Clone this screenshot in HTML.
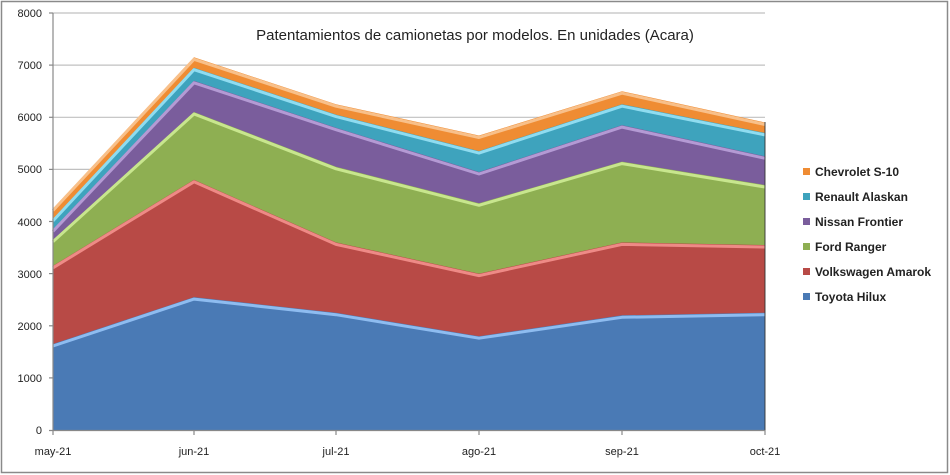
<!DOCTYPE html>
<html><head><meta charset="utf-8"><style>
body{margin:0;background:#fff;width:950px;height:475px;overflow:hidden}
svg{display:block;font-family:"Liberation Sans",sans-serif}
</style></head><body>
<svg width="950" height="475" viewBox="0 0 950 475">
<rect x="1.5" y="1.5" width="946" height="471" fill="#fff" stroke="#8a8a8a" stroke-width="1.5"/>
<g stroke="#c0c0c0" stroke-width="1.2">
<line x1="53" x2="765" y1="13" y2="13"/><line x1="53" x2="765" y1="65.1" y2="65.1"/>
<line x1="53" x2="765" y1="117.3" y2="117.3"/><line x1="53" x2="765" y1="169.4" y2="169.4"/>
<line x1="53" x2="765" y1="221.5" y2="221.5"/><line x1="53" x2="765" y1="273.6" y2="273.6"/>
<line x1="53" x2="765" y1="325.8" y2="325.8"/><line x1="53" x2="765" y1="377.9" y2="377.9"/>
</g>
<text x="475" y="40" font-size="15" text-anchor="middle" fill="#222">Patentamientos de camionetas por modelos. En unidades  (Acara)</text>
<!-- areas -->
<g stroke-linejoin="round">
<polygon fill="#ef8c33" points="53,208.5 194,57.3 336,104.2 479,135.5 622,91.2 765,122.5 765,430 53,430"/>
<polyline fill="none" stroke="#f8c08a" stroke-width="3" points="53,210.5 194,59.3 336,106.2 479,137.5 622,93.2 765,124.5"/>
<polygon fill="#3ea3bd" points="53,218.9 194,67.7 336,114.6 479,151.1 622,104.2 765,132.9 765,430 53,430"/>
<polyline fill="none" stroke="#8fdcf0" stroke-width="3" points="53,220.9 194,69.7 336,116.6 479,153.1 622,106.2 765,134.9"/>
<polygon fill="#7a5d9c" points="53,229.3 194,80.8 336,127.7 479,172 622,125.1 765,156.3 765,430 53,430"/>
<polyline fill="none" stroke="#b49ad4" stroke-width="3" points="53,231.3 194,82.8 336,129.7 479,174 622,127.1 765,158.3"/>
<polygon fill="#8eaf52" points="53,239.7 194,112 336,166.8 479,203.3 622,161.6 765,185 765,430 53,430"/>
<polyline fill="none" stroke="#c8e68e" stroke-width="3" points="53,241.7 194,114 336,168.8 479,205.3 622,163.6 765,187"/>
<polygon fill="#b84a46" points="53,265.8 194,179.8 336,242.4 479,273.6 622,242.4 765,245 765,430 53,430"/>
<polyline fill="none" stroke="#ee8a86" stroke-width="3" points="53,267.8 194,181.8 336,244.4 479,275.6 622,244.4 765,247"/>
<polygon fill="#4a7ab5" points="53,344 194,297.1 336,312.7 479,336.2 622,315.3 765,312.7 765,430 53,430"/>
<polyline fill="none" stroke="#8ebcf0" stroke-width="3" points="53,346 194,299.1 336,314.7 479,338.2 622,317.3 765,314.7"/>
</g>
<line x1="765" y1="122" x2="765" y2="430" stroke="#333" stroke-width="1.5" opacity="0.6"/>
<!-- axes -->
<g stroke="#888" stroke-width="1.2">
<line x1="53" y1="13" x2="53" y2="430"/><line x1="49" y1="430.5" x2="765" y2="430.5"/>
<line x1="49" x2="53" y1="13" y2="13"/><line x1="49" x2="53" y1="65.1" y2="65.1"/><line x1="49" x2="53" y1="117.3" y2="117.3"/>
<line x1="49" x2="53" y1="169.4" y2="169.4"/><line x1="49" x2="53" y1="221.5" y2="221.5"/><line x1="49" x2="53" y1="273.6" y2="273.6"/>
<line x1="49" x2="53" y1="325.8" y2="325.8"/><line x1="49" x2="53" y1="377.9" y2="377.9"/>
<line x1="53" x2="53" y1="430" y2="435"/><line x1="194" x2="194" y1="430" y2="435"/><line x1="336" x2="336" y1="430" y2="435"/>
<line x1="479" x2="479" y1="430" y2="435"/><line x1="622" x2="622" y1="430" y2="435"/><line x1="765" x2="765" y1="430" y2="435"/>
</g>
<g font-size="11" fill="#222" text-anchor="end">
<text x="42" y="17">8000</text><text x="42" y="69">7000</text><text x="42" y="121">6000</text><text x="42" y="173">5000</text>
<text x="42" y="226">4000</text><text x="42" y="278">3000</text><text x="42" y="330">2000</text><text x="42" y="382">1000</text><text x="42" y="434">0</text>
</g>
<g font-size="11" fill="#222" text-anchor="middle">
<text x="53" y="455">may-21</text><text x="194" y="455">jun-21</text><text x="336" y="455">jul-21</text>
<text x="479" y="455">ago-21</text><text x="622" y="455">sep-21</text><text x="765" y="455">oct-21</text>
</g>
<!-- legend -->
<g font-size="12" font-weight="bold" fill="#222">
<rect x="803" y="168" width="7" height="7" fill="#ef8c33"/><text x="815" y="176">Chevrolet S-10</text>
<rect x="803" y="193" width="7" height="7" fill="#3ea3bd"/><text x="815" y="201">Renault Alaskan</text>
<rect x="803" y="218" width="7" height="7" fill="#7a5d9c"/><text x="815" y="226">Nissan Frontier</text>
<rect x="803" y="243" width="7" height="7" fill="#8eaf52"/><text x="815" y="251">Ford Ranger</text>
<rect x="803" y="268" width="7" height="7" fill="#b84a46"/><text x="815" y="276">Volkswagen Amarok</text>
<rect x="803" y="293" width="7" height="7" fill="#4a7ab5"/><text x="815" y="301">Toyota Hilux</text>
</g>
</svg>
</body></html>
